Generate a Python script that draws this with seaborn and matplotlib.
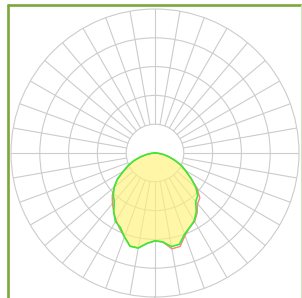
import numpy as np
import matplotlib
matplotlib.use("Agg")
import matplotlib.pyplot as plt
import seaborn as sns
from matplotlib.lines import Line2D

# === Data: light distribution (grid units), angle from nadir, negative = left half ===
angles = [-90, -85, -80, -75, -70, -65, -60, -55, -50, -45, -40, -35, -30, -25, -20,
          -15, -10, -5, 0, 5, 10, 15, 20, 25, 30, 35, 40, 45, 50, 55, 60, 65, 70,
          75, 80, 85, 90]
c90_270 = [0.0, 0.12, 0.3, 0.52, 0.78, 1.02, 1.27, 1.6, 1.85, 2.05, 2.2, 2.5, 2.75,
           2.85, 3.1, 3.35, 3.35, 3.15, 3.05, 3.1, 3.3, 3.28, 3.0, 2.85, 2.72, 2.5, 2.2,
           2.1, 1.85, 1.52, 1.22, 1.0, 0.72, 0.5, 0.3, 0.12, 0.0]
c0_180 = [0.0, 0.12, 0.3, 0.52, 0.78, 1.02, 1.27, 1.6, 1.85, 2.1, 2.3, 2.5, 2.7,
          2.9, 3.1, 3.35, 3.35, 3.15, 3.05, 3.1, 3.38, 3.36, 3.05, 2.85, 2.75, 2.55, 2.3,
          2.2, 1.9, 1.52, 1.22, 1.0, 0.72, 0.5, 0.3, 0.12, 0.0]
rings = [1, 2, 3, 4]
spokes = list(range(0, 360, 10))

GRID = "#cccccc"
BORDER = "#7ba73c"

sns.set_style("white")

fig = plt.figure(figsize=(3.02, 2.98), dpi=100)
ax = fig.add_axes([11 / 302, 1 / 298, 288 / 302, 288 / 298], projection="polar")
ax.set_theta_zero_location("S")
ax.set_theta_direction(1)
ax.set_ylim(0, 5)
ax.set_yticks(rings)
ax.set_yticklabels([])
ax.set_xticks([])
ax.yaxis.grid(True, color=GRID, lw=0.8)
ax.spines["polar"].set_color(GRID)
ax.spines["polar"].set_linewidth(0.8)
ax.set_facecolor("white")

# spokes start at the inner ring
for a in spokes:
    ax.plot([np.radians(a)] * 2, [1, 5], color=GRID, lw=0.8, zorder=0.5)

theta = np.radians(angles)
ax.fill(theta, c90_270, color="#fff27a", alpha=0.65, lw=0, zorder=1)
sns.lineplot(x=theta, y=c0_180, sort=False, estimator=None, color="#ff8080",
             lw=1.0, ax=ax, zorder=2)
sns.lineplot(x=theta, y=c90_270, sort=False, estimator=None, color="#33ee33",
             lw=1.2, ax=ax, zorder=3)
ax.set_xlabel("")
ax.set_ylabel("")

# frame of the original picture (left/top thick, right faint)
top = 292.7 / 298
fig.add_artist(Line2D([8 / 302] * 2, [0, top], color=BORDER, lw=1.9))
fig.add_artist(Line2D([8 / 302, 301 / 302], [top] * 2, color=BORDER, lw=1.9))
fig.add_artist(Line2D([300.5 / 302] * 2, [0, top], color="#d2e4b8", lw=0.8))

fig.savefig("out.png", dpi=100)
